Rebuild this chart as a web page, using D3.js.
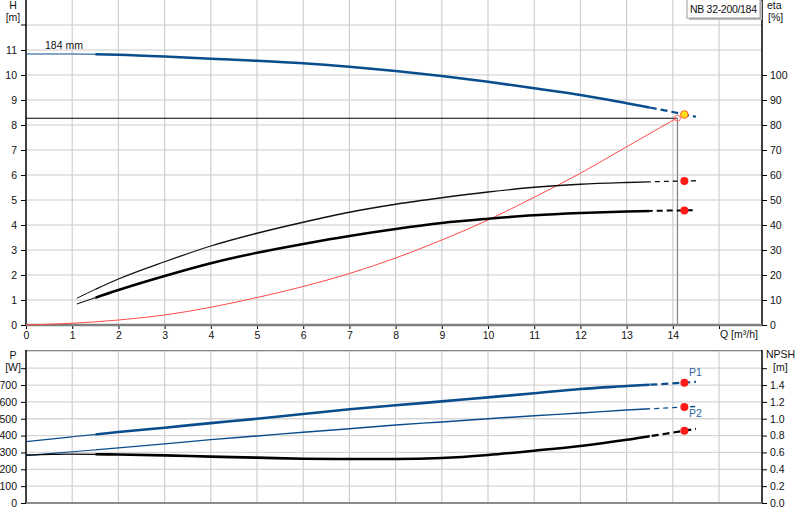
<!DOCTYPE html>
<html>
<head>
<meta charset="utf-8">
<script src="https://cdn.jsdelivr.net/npm/d3@7"></script>
<style>
  body { margin: 0; background: #fff; }
  text { font-family: "Liberation Sans", Arial, sans-serif; font-size: 10.5px; fill: #111; }
</style>
</head>
<body>
<script>
//flow values (m3/h) used by the curves
var qFull = [0, 1, 2, 3, 4, 5, 6, 7, 8, 9, 10, 11, 12, 13, 14, 14.5];
var qEta = [1.1, 2, 3, 4, 5, 6, 7, 8, 9, 10, 11, 12, 13, 14, 14.5];
var qRed = [0, 1, 2, 3, 4, 5, 6, 7, 8, 9, 10, 11, 12, 13, 14.08];

//head curve H [m], 184 mm impeller
var headH = [10.84, 10.84, 10.81, 10.74, 10.65, 10.57, 10.47, 10.33, 10.16, 9.96, 9.73, 9.47, 9.2, 8.87, 8.52, 8.33];
//efficiency curves [%]
var etaUpper = [10.7, 18.4, 25.3, 31.6, 36.7, 41.1, 45.1, 48.3, 50.9, 53.2, 55.1, 56.3, 57.0, 57.5, 57.7];
var etaLower = [8.4, 14, 19.6, 24.7, 28.9, 32.4, 35.6, 38.4, 40.8, 42.5, 43.9, 44.8, 45.4, 45.8, 45.9];
var etaRed = [0, 0.7, 2.0, 4.0, 7.1, 11.0, 15.4, 20.6, 26.8, 34, 42, 51.1, 60.7, 71.3, 82.7];
//power curves [W]
var powerP1 = [364, 393, 421, 447, 474, 500, 528, 556, 580, 603, 627, 651, 677, 694, 710, 719];
var powerP2 = [281, 304, 327, 351, 376, 398, 420, 441, 463, 481, 500, 518, 534, 552, 566, 573];
//NPSH [m]
var npsh = [0.57, 0.58, 0.575, 0.565, 0.55, 0.538, 0.526, 0.522, 0.522, 0.534, 0.57, 0.621, 0.677, 0.75, 0.836, 0.88];

//duty point values
var dutyQ = 14.25, dutyH = 8.42, dutyEtaUpper = 57.6, dutyEtaLower = 45.8;
var dutyP1 = 714, dutyP2 = 570, dutyNpsh = 0.858;
var opQ = 14.1, opH = 8.27;

//tick labels
var qTicks = d3.range(0, 15);
var hTicks = d3.range(0, 12);
var etaTicks = d3.range(0, 101, 10);
var pTicks = d3.range(0, 701, 100);
var npshTicks = d3.range(0, 1.41, 0.2);

var width = 800, height = 520;
var svg = d3.select("body").append("svg")
    .attr("width", width)
    .attr("height", height);

var left = 26, right = 762;
var x = d3.scaleLinear().domain([0, 15.93]).range([left, right]);

//top panel scales
var yH = d3.scaleLinear().domain([0, 13]).range([325, 0]);
var yEta = d3.scaleLinear().domain([0, 130]).range([325, 0]);
//bottom panel scales
var yP = d3.scaleLinear().domain([0, 908]).range([503, 350]);
var yN = d3.scaleLinear().domain([0, 1.816]).range([503, 350]);

var blue = "#0a4d8c";

//clip regions for thin / thick / dashed parts
var defs = svg.append("defs");
function addClip(id, q0, q1){
    defs.append("clipPath").attr("id", id)
        .append("rect")
        .attr("x", x(q0)).attr("y", 0)
        .attr("width", x(q1) - x(q0)).attr("height", height);
}
addClip("cThin", 0, 1.5);
addClip("cThick", 1.5, 13.5);
addClip("cDash", 13.5, 16);

//grid: top panel
var gTop = svg.append("g");
gTop.selectAll(".hg").data(d3.range(1, 13)).enter().append("line")
    .attr("x1", left).attr("x2", right)
    .attr("y1", function(d){ return yH(d); }).attr("y2", function(d){ return yH(d); })
    .attr("stroke", "#dddddd").attr("stroke-width", 1.3);
gTop.selectAll(".vg").data(d3.range(1, 16)).enter().append("line")
    .attr("x1", function(d){ return x(d); }).attr("x2", function(d){ return x(d); })
    .attr("y1", 0).attr("y2", yH(0))
    .attr("stroke", "#cfcfcf").attr("stroke-width", 1.2);

//grid: bottom panel
var gBot = svg.append("g");
gBot.selectAll(".hg").data(d3.range(100, 901, 100)).enter().append("line")
    .attr("x1", left).attr("x2", right)
    .attr("y1", function(d){ return yP(d); }).attr("y2", function(d){ return yP(d); })
    .attr("stroke", "#d6d6d6").attr("stroke-width", 1.3);
gBot.selectAll(".vg").data(d3.range(1, 16)).enter().append("line")
    .attr("x1", function(d){ return x(d); }).attr("x2", function(d){ return x(d); })
    .attr("y1", 350).attr("y2", 503)
    .attr("stroke", "#cfcfcf").attr("stroke-width", 1.2);
svg.append("line").attr("x1", left).attr("x2", right).attr("y1", 350.5).attr("y2", 350.5)
    .attr("stroke", "#888").attr("stroke-width", 1.2);

//axes: top panel
svg.append("g").attr("transform", "translate(" + left + ",0)")
    .call(d3.axisLeft(yH).tickValues(hTicks).tickSize(5).tickPadding(4))
    .call(function(g){ g.select(".domain").remove(); });
svg.append("g").attr("transform", "translate(" + right + ",0)")
    .call(d3.axisRight(yEta).tickValues(etaTicks).tickSize(5).tickPadding(3))
    .call(function(g){ g.select(".domain").remove(); });
svg.append("g").attr("transform", "translate(0," + yH(0) + ")")
    .call(d3.axisBottom(x).tickValues(qTicks.concat([15])).tickSize(4).tickPadding(3).tickFormat(function(d){ return d === 15 ? "" : d; }))
    .call(function(g){ g.select(".domain").remove(); });
svg.append("line").attr("x1", left - 5).attr("x2", left).attr("y1", yH(12)).attr("y2", yH(12)).attr("stroke", "#000");

//bottom panel axes
svg.append("g").attr("transform", "translate(" + left + ",0)")
    .call(d3.axisLeft(yP).tickValues(pTicks.concat([800])).tickSize(5).tickPadding(4).tickFormat(function(d){ return d === 800 ? "" : d; }))
    .call(function(g){ g.select(".domain").remove(); });
svg.append("g").attr("transform", "translate(" + right + ",0)")
    .call(d3.axisRight(yN).tickValues(npshTicks.concat([1.6])).tickSize(5).tickPadding(3).tickFormat(function(d){ return d > 1.5 ? "" : d3.format(".1f")(d); }))
    .call(function(g){ g.select(".domain").remove(); });

//axis lines
svg.append("line").attr("x1", left).attr("x2", left).attr("y1", 0).attr("y2", yH(0)).attr("stroke", "#000").attr("stroke-width", 1.5);
svg.append("line").attr("x1", right).attr("x2", right).attr("y1", 0).attr("y2", yH(0)).attr("stroke", "#000").attr("stroke-width", 1.5);
svg.append("line").attr("x1", left).attr("x2", right).attr("y1", yH(0)).attr("y2", yH(0)).attr("stroke", "#808080").attr("stroke-width", 2.5);
svg.append("line").attr("x1", left).attr("x2", left).attr("y1", 350).attr("y2", 503).attr("stroke", "#000").attr("stroke-width", 1.5);
svg.append("line").attr("x1", right).attr("x2", right).attr("y1", 350).attr("y2", 503).attr("stroke", "#000").attr("stroke-width", 1.5);
svg.append("line").attr("x1", left).attr("x2", right).attr("y1", 503).attr("y2", 503).attr("stroke", "#666").attr("stroke-width", 1.5);

//axis titles
svg.append("text").attr("x", 13).attr("y", 9).attr("text-anchor", "middle").text("H");
svg.append("text").attr("x", 13).attr("y", 21).attr("text-anchor", "middle").text("[m]");
svg.append("text").attr("x", 767).attr("y", 9).text("eta");
svg.append("text").attr("x", 768).attr("y", 21).text("[%]");
svg.append("text").attr("x", 720).attr("y", 338).text("Q [m³/h]");
svg.append("text").attr("x", 13).attr("y", 359).attr("text-anchor", "middle").text("P");
svg.append("text").attr("x", 13).attr("y", 371).attr("text-anchor", "middle").text("[W]");
svg.append("text").attr("x", 766).attr("y", 358).text("NPSH");
svg.append("text").attr("x", 773).attr("y", 371).text("[m]");

//legend box
var lg = svg.append("g");
lg.append("rect").attr("x", 689).attr("y", 1).attr("width", 73).attr("height", 19)
    .attr("fill", "#bbb");
lg.append("rect").attr("x", 687).attr("y", -1).attr("width", 73).attr("height", 19)
    .attr("fill", "#fff").attr("stroke", "#999");
lg.append("text").attr("x", 690).attr("y", 13).attr("textLength", 67).text("NB 32-200/184");

//curve helper
function pairs(qs, vs){ return qs.map(function(q, i){ return [q, vs[i]]; }); }
function drawCurve(data, yScale, color, widths, dash){
    var line = d3.line()
        .x(function(d){ return x(d[0]); })
        .y(function(d){ return yScale(d[1]); })
        .curve(d3.curveMonotoneX);
    var parts = [["cThin", widths[0], null], ["cThick", widths[1], null], ["cDash", widths[2], dash]];
    parts.forEach(function(p){
        svg.append("path").datum(data)
            .attr("clip-path", "url(#" + p[0] + ")")
            .attr("fill", "none")
            .attr("stroke", color)
            .attr("stroke-width", p[1])
            .attr("stroke-dasharray", p[2])
            .attr("d", line);
    });
}

//operating lines
svg.append("line").attr("x1", x(0)).attr("x2", x(opQ))
    .attr("y1", yH(opH)).attr("y2", yH(opH)).attr("stroke", "#000").attr("stroke-width", 1.2);
svg.append("line").attr("x1", x(opQ)).attr("x2", x(opQ))
    .attr("y1", yH(opH)).attr("y2", yH(0)).attr("stroke", "#888").attr("stroke-width", 1.3);

//top curves
svg.append("path").datum(pairs(qRed, etaRed))
    .attr("fill", "none").attr("stroke", "#ff4a4a").attr("stroke-width", 1)
    .attr("d", d3.line().x(function(d){ return x(d[0]); }).y(function(d){ return yEta(d[1]); }).curve(d3.curveMonotoneX));
drawCurve(pairs(qEta, etaUpper), yEta, "#111", [1, 1.3, 1.3], "5,4");
drawCurve(pairs(qEta, etaLower), yEta, "#000", [1, 2.6, 2], "6,4");
drawCurve(pairs(qFull, headH), yH, blue, [1.2, 2.6, 2.2], "7,4");

//bottom curves
drawCurve(pairs(qFull, powerP1), yP, blue, [1.2, 2.6, 2.2], "7,4");
drawCurve(pairs(qFull, powerP2), yP, blue, [1.2, 1.4, 1.3], "5,4");
drawCurve(pairs(qFull, npsh), yN, "#000", [1.2, 2.6, 2.2], "7,4");

svg.append("text").attr("x", 45).attr("y", 49).text("184 mm");
svg.append("text").attr("x", 689).attr("y", 376).style("fill", "#2a62a8").text("P1");
svg.append("text").attr("x", 689).attr("y", 417).style("fill", "#2a62a8").text("P2");

//duty point markers
svg.append("circle").attr("cx", x(opQ)).attr("cy", yH(opH)).attr("r", 3)
    .attr("fill", "none").attr("stroke", "#ff6060").attr("stroke-width", 1);
var reds = [[yEta, dutyEtaUpper], [yEta, dutyEtaLower], [yP, dutyP1], [yP, dutyP2], [yN, dutyNpsh]];
reds.forEach(function(r){
    svg.append("circle").attr("cx", x(dutyQ)).attr("cy", r[0](r[1])).attr("r", 4)
        .attr("fill", "#ff1a1a");
});
svg.append("circle").attr("cx", x(dutyQ)).attr("cy", yH(dutyH)).attr("r", 3.8)
    .attr("fill", "#ffe21a").attr("stroke", "#ff5a1a").attr("stroke-width", 1);
</script>
</body>
</html>
